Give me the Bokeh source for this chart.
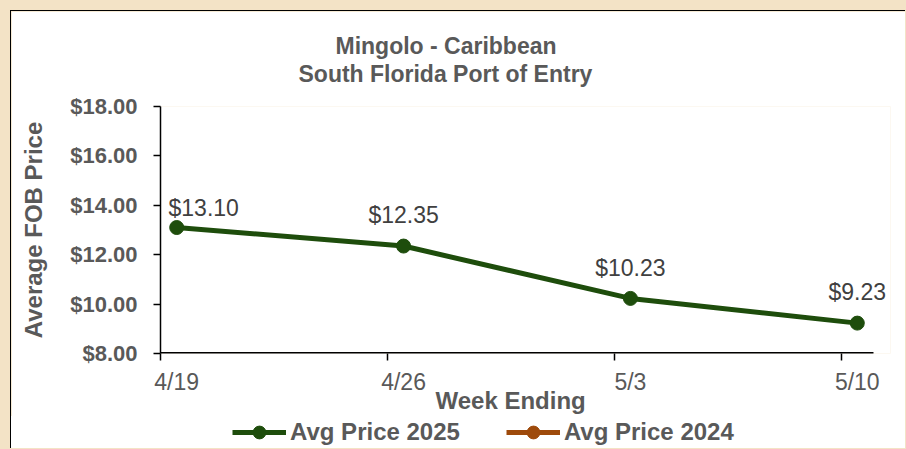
from bokeh.plotting import figure
from bokeh.models import (FixedTicker, NumeralTickFormatter, LinearAxis, Title,
                          Legend, LegendItem, Range1d)
from bokeh.layouts import column
from bokeh.embed import file_html
from bokeh.resources import INLINE
from bokeh.core.properties import value
import numpy as np
import pandas as pd

# ---- data ----
weeks = ["4/19", "4/26", "5/3", "5/10"]
week_dates = ["2025-04-19", "2025-04-26", "2025-05-03", "2025-05-10"]
price_2025 = [13.10, 12.35, 10.23, 9.23]
price_2024 = [None, None, None, None]    # no 2024 prices shown for these weeks
y_ticks = [8, 10, 12, 14, 16, 18]
title_lines = ["Mingolo - Caribbean", "South Florida Port of Entry"]
x_title = "Week Ending"
y_title = "Average FOB Price"
series_names = ["Avg Price 2025", "Avg Price 2024"]

# ---- styles ----
FONT = "Liberation Sans"
GRAY = "#595959"
GREEN = "#1E4D0C"
ORANGE = "#9E4A0B"
BEIGE = "#F3E3C6"

dates = pd.to_datetime(week_dates)
day_idx = [int((d - dates[0]).days) for d in dates]     # tick marks (start of day)
x_pts = [d + 0.5 for d in day_idx]                       # points sit mid-day
x_axis_end = day_idx[-1] + 1
RIGHT_ROOM = 0.525                                       # room for the last label
y24 = np.array(price_2024, dtype=float)                  # missing -> NaN

p = figure(width=895, height=406, output_backend="svg", toolbar_location=None,
           x_range=Range1d(0, x_axis_end + RIGHT_ROOM),
           y_range=Range1d(y_ticks[0], y_ticks[-1]),
           min_border_left=149, min_border_right=16, min_border_top=95,
           min_border_bottom=64, background_fill_color="white",
           border_fill_color="white", outline_line_color=None)
p.styles = {"margin-left": "10px", "margin-top": "10px",
            "border-left": "1px solid black", "border-top": "1px solid black"}
p.grid.visible = False

# y axis
ya = p.yaxis[0]
ya.ticker = FixedTicker(ticks=y_ticks)
ya.formatter = NumeralTickFormatter(format="$0.00")
ya.major_label_text_font = FONT
ya.major_label_text_font_size = "22px"
ya.major_label_text_font_style = "bold"
ya.major_label_text_color = GRAY
ya.major_tick_in = 0
ya.major_tick_out = 7
ya.minor_tick_line_color = None
ya.major_label_standoff = 16
ya.axis_line_width = 1.5
ya.major_tick_line_width = 1.5
ya.axis_label = y_title
ya.axis_label_text_font = FONT
ya.axis_label_text_font_size = "24px"
ya.axis_label_text_font_style = "bold"
ya.axis_label_text_color = GRAY
ya.axis_label_standoff = 20

# x axis: tick marks only (its line is drawn below so it stops at the last day)
xa = p.xaxis[0]
xa.ticker = FixedTicker(ticks=day_idx)
xa.major_label_text_font_size = "0px"
xa.major_label_standoff = 0
xa.major_tick_in = 0
xa.major_tick_out = 7
xa.minor_tick_line_color = None
xa.axis_line_color = None
xa.major_tick_line_width = 1.5
p.segment(x0=[0], y0=[y_ticks[0]], x1=[x_axis_end], y1=[y_ticks[0]],
          line_color="black", line_width=3)

# x axis: labels centred on the weeks
xa2 = LinearAxis(ticker=FixedTicker(ticks=x_pts),
                 major_label_overrides={x: w for x, w in zip(x_pts, weeks)},
                 axis_line_color=None, major_tick_line_color=None,
                 minor_tick_line_color=None, major_tick_in=0, major_tick_out=0,
                 major_label_standoff=8,
                 major_label_text_font=FONT, major_label_text_font_size="23px",
                 major_label_text_color=GRAY)
p.add_layout(xa2, "below")
p.add_layout(Title(text=x_title, align="left", offset=275, standoff=-26,
                   text_font=FONT, text_font_size="24px", text_font_style="bold",
                   text_color=GRAY), "below")

# series
p.line(x_pts, price_2025, line_width=5, color=GREEN)
p.scatter(x_pts, price_2025, size=14, color=GREEN)
p.line(x_pts, y24, line_width=5, color=ORANGE)
p.scatter(x_pts, y24, size=14, color=ORANGE)

# data labels
lab_dx = [27, 0, 0, 0]
lab_dy = [-20, -31, -30, -31]
p.text(x=x_pts, y=price_2025, text=[f"${v:.2f}" for v in price_2025],
       x_offset=lab_dx, y_offset=lab_dy, text_align="center",
       text_baseline="alphabetic", text_font=value(FONT),
       text_font_size="23px", text_color="#404040")

# gap between plot and title block (invisible axis with one hidden tick)
gap = LinearAxis(ticker=FixedTicker(ticks=[day_idx[0]]), axis_line_color=None,
                 major_tick_line_color=None, minor_tick_line_color=None,
                 major_tick_in=0, major_tick_out=20,
                 major_label_text_font_size="0px", major_label_standoff=0)
p.add_layout(gap, "above")
# title (second line nearest the plot)
p.add_layout(Title(text=title_lines[1], align="left", offset=138, standoff=0,
                   text_font=FONT, text_font_size="23px", text_font_style="bold",
                   text_color=GRAY), "above")
p.add_layout(Title(text=title_lines[0], align="left", offset=175, standoff=0,
                   text_font=FONT, text_font_size="23px", text_font_style="bold",
                   text_color=GRAY), "above")

# legend strip under the chart
lf = figure(width=895, height=32, output_backend="svg", toolbar_location=None,
            x_axis_type=None, y_axis_type=None, x_range=Range1d(0, 1),
            y_range=Range1d(0, 1), min_border=0, outline_line_color=None,
            background_fill_color="white", border_fill_color="white")
lf.styles = {"margin-left": "10px", "border-left": "1px solid black",
             "background-color": "white"}
lf.grid.visible = False
k25 = [lf.line(x_pts, price_2025, line_width=5, color=GREEN),
       lf.scatter(x_pts, price_2025, size=14, color=GREEN)]
k24 = [lf.line(x_pts, y24, line_width=5, color=ORANGE),
       lf.scatter(x_pts, y24, size=14, color=ORANGE)]
legend = Legend(items=[LegendItem(label=series_names[0], renderers=k25),
                       LegendItem(label=series_names[1], renderers=k24)],
                orientation="horizontal", location=(72, 0),
                glyph_width=54, glyph_height=32, label_standoff=4, spacing=46,
                padding=0, margin=0, border_line_color=None,
                background_fill_alpha=0, label_text_font=FONT,
                label_text_font_size="24px", label_text_font_style="bold",
                label_text_color=GRAY)
lf.add_layout(legend)

page = column(p, lf, spacing=0)
html = file_html(page, INLINE)
html = html.replace("</head>", "<style>body{background:%s;}</style></head>" % BEIGE, 1)
open("out.html", "w").write(html)
